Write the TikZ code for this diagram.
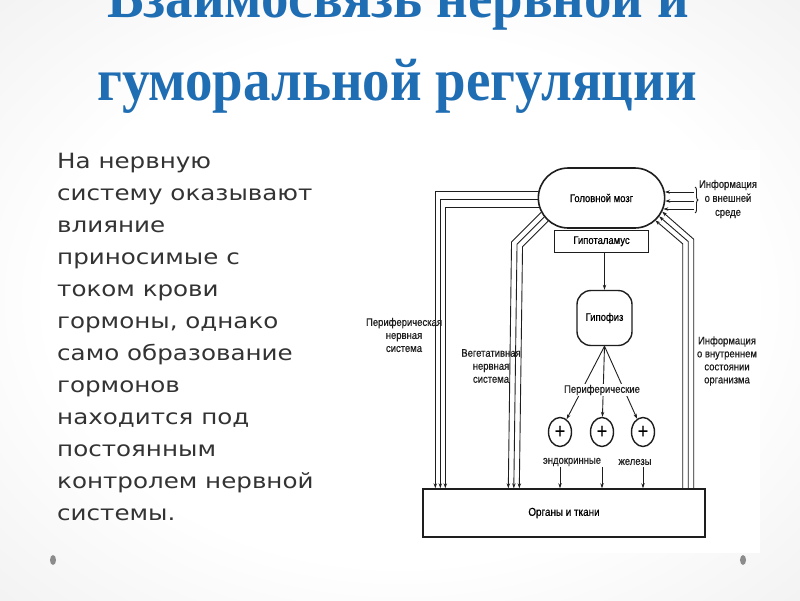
\documentclass[tikz,border=0pt]{standalone}
\usepackage{fontspec}
\setmainfont{DejaVu Sans}
\newfontfamily\titlefont[FakeStretch=0.915]{Liberation Serif}
\newfontfamily\bodyfont[FakeStretch=1.17]{DejaVu Sans}
\newfontfamily\schemefont[FakeStretch=0.86,FakeBold=0.6]{Liberation Sans}
\usepackage{xcolor}
\usepackage{tikz}
\usetikzlibrary{shapes.misc,shapes.geometric,arrows.meta,positioning,calc,
                decorations.pathreplacing}
\definecolor{titleblue}{HTML}{1F6DB3}
\definecolor{bodygray}{HTML}{333333}
\definecolor{inkblack}{HTML}{1E1E1E}
\definecolor{dotgray}{HTML}{8C8C8C}
\pgfdeclareradialshading{slidebg}{\pgfpoint{0bp}{0bp}}{color(0bp)=(white);
  color(22bp)=(white); color(50bp)=(black!10); color(72bp)=(black!18)}

\begin{document}
\begin{tikzpicture}[
    x=1pt,y=-1pt,
    titletxt/.style = {font=\titlefont\bfseries\fontsize{60}{60}\selectfont,
                       text=titleblue,inner sep=0pt},
    bodytxt/.style  = {font=\bodyfont\fontsize{21}{32}\selectfont,text=bodygray,
                       align=left,inner sep=0pt},
    lbl/.style      = {font=\schemefont\fontsize{11}{13}\selectfont,text=inkblack,
                       align=center,inner sep=0.5pt},
    brainbox/.style = {rounded rectangle,draw=inkblack,line width=1.6pt,
                       minimum width=133pt,minimum height=60pt,
                       font=\schemefont\fontsize{11}{13}\selectfont},
    hypobox/.style  = {rectangle,draw=inkblack,line width=1pt,
                       minimum width=94pt,minimum height=22pt,inner sep=0pt,
                       font=\schemefont\fontsize{11}{13}\selectfont},
    pitbox/.style   = {rectangle,rounded corners=14pt,draw=inkblack,line width=1.4pt,
                       minimum width=55pt,minimum height=55pt,inner sep=0pt,
                       font=\schemefont\fontsize{11}{13}\selectfont},
    gland/.style    = {ellipse,draw=inkblack,line width=1.4pt,minimum width=23pt,
                       minimum height=29pt,inner sep=0pt,
                       font=\schemefont\fontsize{21}{21}\selectfont},
    organbox/.style = {rectangle,draw=inkblack,line width=1.4pt,
                       minimum width=282pt,minimum height=48pt,
                       font=\schemefont\fontsize{11.5}{13}\selectfont},
    fl/.style       = {-{Stealth[length=5pt,width=3.4pt]},draw=inkblack,line width=0.9pt},
    ln/.style       = {draw=inkblack,line width=0.9pt},
  ]

  \clip (0,0) rectangle (800,600);
  \useasboundingbox (0,0) rectangle (800,600);
  \shade[shading=slidebg] (0,0) rectangle (800,600);
  \fill[white] (420,150) rectangle (760,553);

  \node[titletxt,anchor=base] (title1) at (398,17)  {Взаимосвязь нервной и};
  \node[titletxt,anchor=base] (title2) at (397,100) {гуморальной регуляции};

  \node[bodytxt,anchor=north west] (body) at (57,153)
    {На нервную\\систему оказывают\\влияние\\приносимые с\\током крови\\гормоны, однако\\само образование\\гормонов\\находится под\\постоянным\\контролем нервной\\системы.};

  \fill[dotgray] (53,560) ellipse (3pt and 5pt);
  \fill[dotgray] (743,560) ellipse (3pt and 5pt);

  \node[brainbox] (brain) at (601.5,198) {Головной мозг};
  \node[hypobox,below=1pt of brain] (hypo) {Гипоталамус};
  \node[pitbox,below=37pt of hypo,xshift=3pt] (pit) {Гипофиз};
  \node[gland] (gl1) at (560,432) {+};
  \node[gland] (gl2) at (602,432) {+};
  \node[gland] (gl3) at (643,432) {+};
  \node[organbox] (organs) at (564,513) {Органы и ткани};

  \node[lbl] (endo) at (572,462) {эндокринные};
  \node[lbl] (iron) at (635,462) {железы};
  \node[lbl] (pns)  at (404,335) {Периферическая\\нервная\\система};
  \node[lbl] (vns)  at (491,366) {Вегетативная\\нервная\\система};
  \node[lbl,font=\schemefont\fontsize{11}{14}\selectfont] (extinfo) at (728,199) {Информация\\о внешней\\среде};
  \node[lbl] (intinfo) at (727,361) {Информация\\о внутреннем\\состоянии\\организма};
  \coordinate (brc) at (694,200);

  \draw[fl] (hypo.south -| pit.north) -- (pit.north);
  \draw[fl] (pit.south) -- (gl1);
  \draw[fl] (pit.south) -- (gl2);
  \draw[fl] (pit.south) -- (gl3);
  \node[lbl,fill=white] (periph) at (602,390) {Периферические};

  \draw[fl] (gl1 |- endo.south) -- (gl1 |- organs.north);
  \draw[fl] (gl2 |- endo.south) -- (gl2 |- organs.north);
  \draw[fl] (gl3 |- endo.south) -- (gl3 |- organs.north);

  \draw[fl] ($(brain.west)+(0.8,-7)$) -| ($(organs.north west)+(13,0)$);
  \draw[fl] ($(brain.west)+(0,1)$)    -| ($(organs.north west)+(18,0)$);
  \draw[fl] ($(brain.west)+(1.4,9)$)  -| ($(organs.north west)+(23,0)$);

  \draw[fl] ($(brain.west)+(3.7,14.3)$) -- ++(-29.7,29.7) -- ($(organs.north west)+(86,0)$);
  \draw[fl] ($(brain.west)+(6.8,19)$)   -- ++(-27.3,27.3) -- ($(organs.north west)+(91.5,0)$);
  \draw[fl] ($(brain.west)+(10.7,23)$)  -- ++(-25.7,25.7) -- ($(organs.north west)+(97,0)$);

  \draw[fl] ($(organs.north east)+(-23,0)$)   -- ++(0,-244.5) -- ($(brain.east)+(-10.1,22.4)$);
  \draw[fl] ($(organs.north east)+(-17.5,0)$) -- ++(0,-246.8) -- ($(brain.east)+(-6.3,18.4)$);
  \draw[fl] ($(organs.north east)+(-12,0)$)   -- ++(0,-249.1) -- ($(brain.east)+(-3.3,13.6)$);

  \draw[ln,decorate,decoration={brace,amplitude=3pt}] ($(brc)+(1,-13)$) -- ($(brc)+(1,13)$);
  \draw[fl] ($(brc)+(0,-8)$) -- ($(brain.east)+(-0.6,-6)$);
  \draw[fl] ($(brc)+(0,1)$)  -- ($(brain.east)+(-0.2,3)$);
  \draw[fl] ($(brc)+(0,9)$)  -- ($(brain.east)+(-2.1,11)$);

\end{tikzpicture}
\end{document}
